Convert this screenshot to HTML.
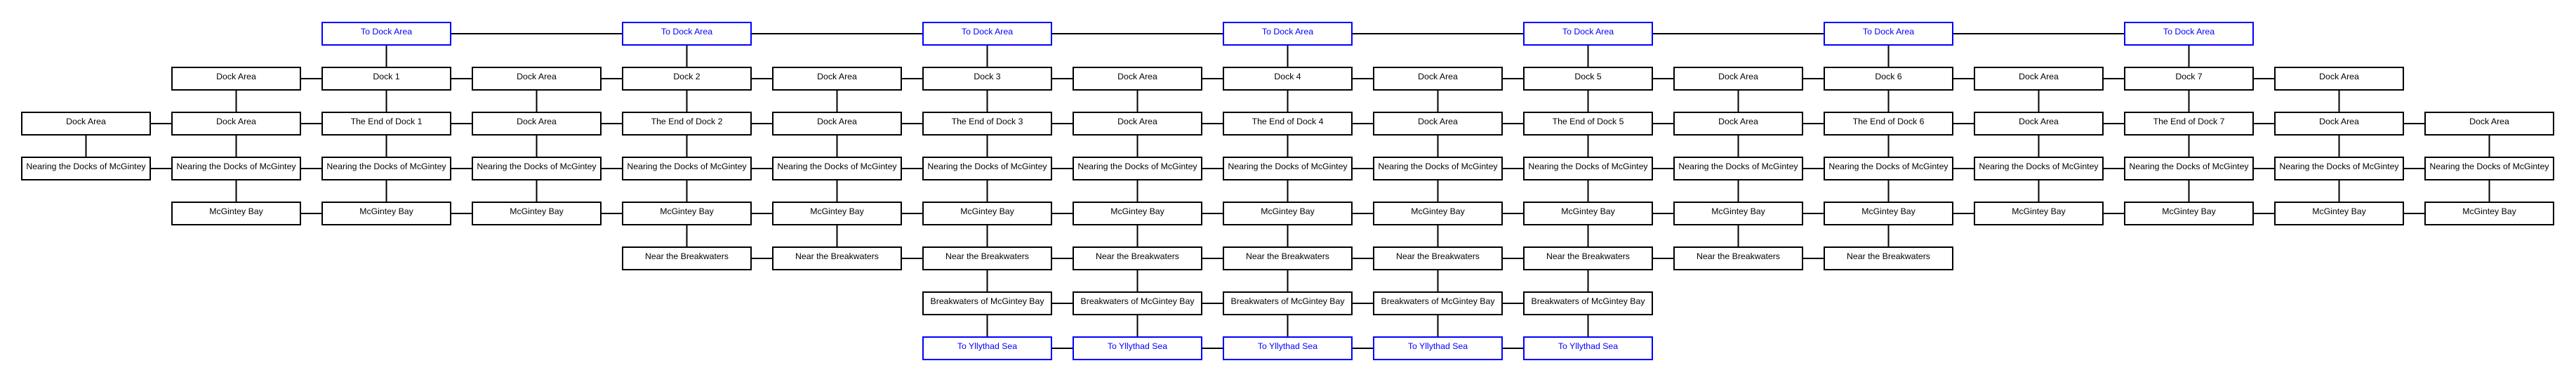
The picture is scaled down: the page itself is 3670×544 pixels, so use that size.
<!DOCTYPE html>
<html><head><meta charset="utf-8"><style>
html,body{margin:0;padding:0;background:#fff;}
svg{display:block;}
text{font-family:"Liberation Sans",sans-serif;font-size:12.3px;text-anchor:middle;}
</style></head><body>
<svg width="3670" height="544" viewBox="0 0 3670 544" xmlns="http://www.w3.org/2000/svg">
<g stroke="#000" stroke-width="2">
<line x1="550.5" y1="48" x2="3118.5" y2="48"/>
<line x1="336.5" y1="112" x2="3332.5" y2="112"/>
<line x1="122.5" y1="176" x2="3546.5" y2="176"/>
<line x1="122.5" y1="240" x2="3546.5" y2="240"/>
<line x1="336.5" y1="304" x2="3546.5" y2="304"/>
<line x1="978.5" y1="368" x2="2690.5" y2="368"/>
<line x1="1406.5" y1="432" x2="2262.5" y2="432"/>
<line x1="1406.5" y1="496" x2="2262.5" y2="496"/>
<line x1="122.5" y1="176" x2="122.5" y2="240"/>
<line x1="336.5" y1="112" x2="336.5" y2="304"/>
<line x1="550.5" y1="48" x2="550.5" y2="304"/>
<line x1="764.5" y1="112" x2="764.5" y2="304"/>
<line x1="978.5" y1="48" x2="978.5" y2="368"/>
<line x1="1192.5" y1="112" x2="1192.5" y2="368"/>
<line x1="1406.5" y1="48" x2="1406.5" y2="496"/>
<line x1="1620.5" y1="112" x2="1620.5" y2="496"/>
<line x1="1834.5" y1="48" x2="1834.5" y2="496"/>
<line x1="2048.5" y1="112" x2="2048.5" y2="496"/>
<line x1="2262.5" y1="48" x2="2262.5" y2="496"/>
<line x1="2476.5" y1="112" x2="2476.5" y2="368"/>
<line x1="2690.5" y1="48" x2="2690.5" y2="368"/>
<line x1="2904.5" y1="112" x2="2904.5" y2="304"/>
<line x1="3118.5" y1="48" x2="3118.5" y2="304"/>
<line x1="3332.5" y1="112" x2="3332.5" y2="304"/>
<line x1="3546.5" y1="176" x2="3546.5" y2="304"/>
</g>
<g id="boxes"></g>
</svg>
<script>
var g=document.getElementById('boxes');var ns='http://www.w3.org/2000/svg';
function box(c,r,t,blue){var x=31+214*c,y=32+64*r;
var R=document.createElementNS(ns,'rect');R.setAttribute('x',x);R.setAttribute('y',y);R.setAttribute('width',183);R.setAttribute('height',32);
R.setAttribute('fill','#fff');R.setAttribute('stroke',blue?'#0000ff':'#000');R.setAttribute('stroke-width',2);g.appendChild(R);
var T=document.createElementNS(ns,'text');T.setAttribute('x',x+91.5);T.setAttribute('y',y+17);T.setAttribute('fill',blue?'#0000ff':'#000');T.textContent=t;g.appendChild(T);}
var i,k;
for(k=1;k<=7;k++)box(2*k,0,'To Dock Area',1);
for(i=1;i<=15;i++)box(i,1,i%2?'Dock Area':'Dock '+(i/2));
for(i=0;i<=16;i++)box(i,2,(i%2||i==0||i==16)?'Dock Area':'The End of Dock '+(i/2));
for(i=0;i<=16;i++)box(i,3,'Nearing the Docks of McGintey');
for(i=1;i<=16;i++)box(i,4,'McGintey Bay');
for(i=4;i<=12;i++)box(i,5,'Near the Breakwaters');
for(i=6;i<=10;i++)box(i,6,'Breakwaters of McGintey Bay');
for(i=6;i<=10;i++)box(i,7,'To Yllythad Sea',1);
</script>
</body></html>
